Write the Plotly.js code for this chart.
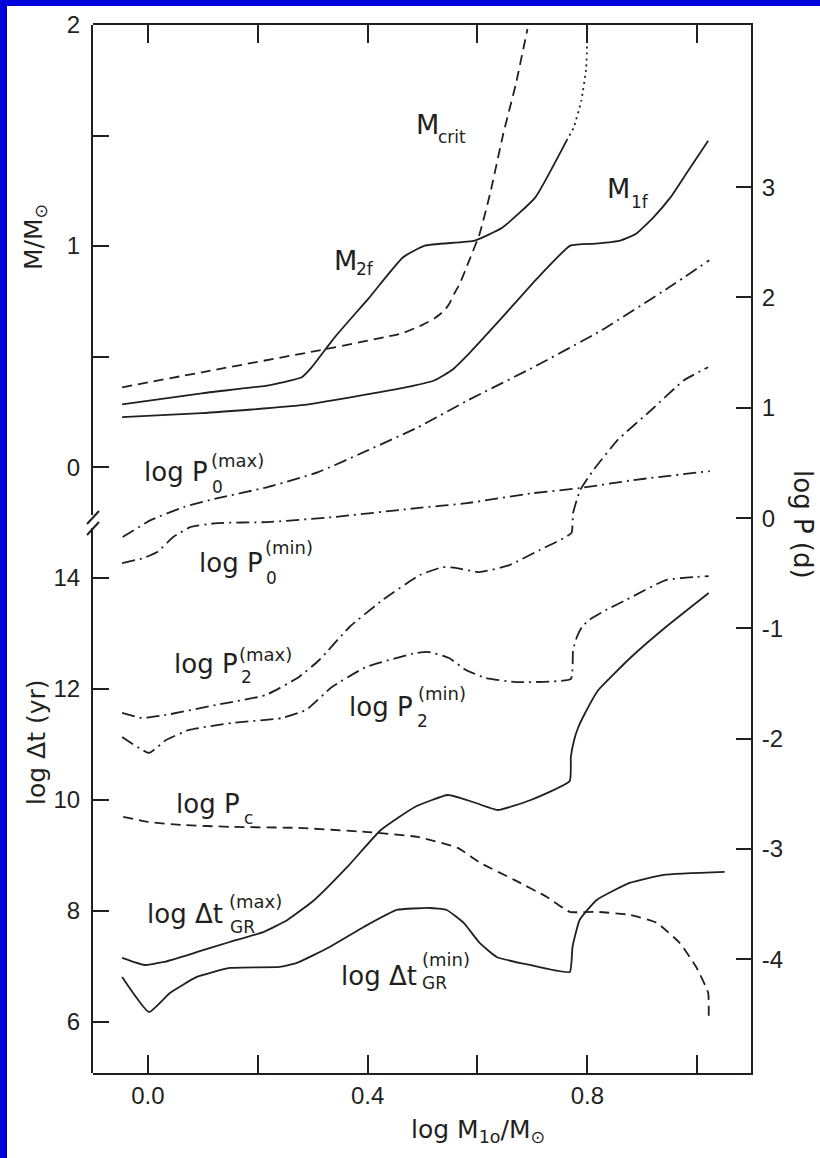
<!DOCTYPE html>
<html>
<head>
<meta charset="utf-8">
<script src="https://cdn.plot.ly/plotly-3.0.1.min.js"></script>
<style>
html,body{margin:0;padding:0;background:#fff;overflow:hidden;}
#wrap{position:relative;width:820px;height:1158px;}
#chart{position:absolute;left:0;top:0;width:820px;height:1158px;}
.band{position:absolute;background:#0000dc;}
</style>
</head>
<body>
<div id="wrap">
<div id="chart"></div>
<div class="band" style="left:0;top:0;width:820px;height:6px;"></div>
<div class="band" style="left:0;top:0;width:7px;height:1158px;"></div>
</div>
<script>
// ---------- data (x = log M10/Msun) ----------
// upper panel: M / Msun (left axis)
const x_Mcrit = [-0.047, 0.098, 0.322, 0.462, 0.498, 0.522, 0.540, 0.549, 0.558, 0.568, 0.585, 0.604, 0.623, 0.647, 0.670, 0.691];
const M_Mcrit = [0.361, 0.429, 0.533, 0.605, 0.641, 0.673, 0.709, 0.740, 0.786, 0.831, 0.935, 1.056, 1.237, 1.508, 1.734, 1.982];

const x_M2f = [-0.047, 0.098, 0.220, 0.262, 0.280, 0.298, 0.340, 0.403, 0.464, 0.504, 0.595, 0.645, 0.705, 0.762];
const M_M2f = [0.284, 0.334, 0.370, 0.393, 0.406, 0.451, 0.587, 0.767, 0.948, 1.002, 1.025, 1.083, 1.219, 1.476];
const x_M2f_ext = [0.762, 0.775, 0.789, 0.798, 0.800];
const M_M2f_ext = [1.476, 1.535, 1.657, 1.806, 1.986];

const x_M1f = [-0.047, 0.098, 0.280, 0.462, 0.522, 0.553, 0.585, 0.645, 0.705, 0.769, 0.816, 0.860, 0.889, 0.920, 0.951, 0.980, 1.020];
const M_M1f = [0.226, 0.244, 0.280, 0.357, 0.393, 0.438, 0.515, 0.677, 0.844, 1.002, 1.011, 1.025, 1.056, 1.129, 1.219, 1.327, 1.476];

// log P (d) curves (right axis)
const x_P0max = [-0.046, 0.005, 0.065, 0.127, 0.218, 0.310, 0.401, 0.492, 0.583, 0.702, 0.826, 0.949, 1.022];
const logP_P0max = [-0.172, -0.018, 0.100, 0.181, 0.281, 0.417, 0.616, 0.824, 1.069, 1.368, 1.703, 2.092, 2.337];

const x_P0min = [-0.047, -0.008, 0.017, 0.046, 0.077, 0.126, 0.217, 0.337, 0.490, 0.581, 0.701, 0.786, 0.883, 1.023];
const logP_P0min = [-0.408, -0.362, -0.308, -0.172, -0.082, -0.045, -0.036, 0.009, 0.091, 0.136, 0.226, 0.272, 0.344, 0.426];

const x_P2max = [-0.047, -0.011, 0.033, 0.124, 0.215, 0.275, 0.312, 0.367, 0.427, 0.495, 0.537, 0.562, 0.604, 0.658, 0.713, 0.771, 0.774, 0.787, 0.811, 0.855, 0.916, 0.976, 1.020];
const logP_P2max = [-1.766, -1.812, -1.784, -1.694, -1.603, -1.440, -1.286, -0.987, -0.743, -0.516, -0.444, -0.453, -0.489, -0.426, -0.290, -0.136, 0.045, 0.254, 0.435, 0.707, 0.978, 1.250, 1.368];

const x_P2min = [-0.047, 0.002, 0.033, 0.075, 0.153, 0.244, 0.288, 0.335, 0.397, 0.488, 0.512, 0.548, 0.579, 0.615, 0.670, 0.770, 0.774, 0.781, 0.790, 0.803, 0.834, 0.870, 0.943, 1.021];
const logP_P2min = [-1.984, -2.129, -2.011, -1.920, -1.857, -1.812, -1.739, -1.531, -1.350, -1.223, -1.214, -1.268, -1.377, -1.449, -1.486, -1.458, -1.196, -1.078, -0.987, -0.924, -0.833, -0.743, -0.562, -0.525];

const x_Pc = [-0.045, 0.000, 0.060, 0.151, 0.273, 0.395, 0.491, 0.564, 0.605, 0.667, 0.726, 0.768, 0.817, 0.877, 0.926, 0.968, 0.998, 1.020, 1.021];
const logP_Pc = [-2.708, -2.754, -2.781, -2.799, -2.808, -2.844, -2.890, -2.989, -3.125, -3.279, -3.433, -3.569, -3.569, -3.596, -3.668, -3.850, -4.067, -4.303, -4.520];

// log Δt (yr) curves (lower left axis)
const x_tGRmax = [-0.047, -0.007, 0.029, 0.090, 0.149, 0.211, 0.254, 0.303, 0.363, 0.424, 0.486, 0.546, 0.592, 0.637, 0.697, 0.768, 0.770, 0.776, 0.783, 0.796, 0.820, 0.880, 0.943, 1.021];
const logt_tGRmax = [7.153, 7.027, 7.081, 7.261, 7.441, 7.622, 7.838, 8.198, 8.793, 9.459, 9.874, 10.090, 9.964, 9.820, 10.000, 10.342, 10.775, 11.081, 11.297, 11.568, 11.982, 12.577, 13.117, 13.730];

const x_tGRmin = [-0.047, 0.002, 0.040, 0.089, 0.149, 0.240, 0.271, 0.331, 0.393, 0.453, 0.513, 0.544, 0.575, 0.604, 0.635, 0.695, 0.768, 0.773, 0.786, 0.817, 0.877, 0.939, 1.050];
const logt_tGRmin = [6.811, 6.180, 6.523, 6.811, 6.973, 6.991, 7.063, 7.351, 7.712, 8.018, 8.054, 8.018, 7.784, 7.423, 7.171, 7.027, 6.901, 7.351, 7.838, 8.198, 8.505, 8.649, 8.703];

// ticks
const xTickVals = [0, 0.2, 0.4, 0.6, 0.8, 1.0];
const xTickText = ['0.0', ' ', '0.4', ' ', '0.8', ' '];
const mTickVals = [0, 0.5, 1, 1.5, 2];
const mTickText = ['0', ' ', '1', ' ', '2'];
const tTickVals = [6, 8, 10, 12, 14];
const tTickText = ['6', '8', '10', '12', '14'];
const pTickVals = [-4, -3, -2, -1, 0, 1, 2, 3];
const pTickText = ['-4', '-3', '-2', '-1', '0', '1', '2', '3'];

// ---------- drawing ----------
const INK = '#231f20';
const LW = 1.8;
const SOLID = 'solid', DASH = '10px,6px', DOT = '2px,4px', DASHDOT = '13px,5px,2px,5px';

function tr(x, y, ya, dash) {
  return {x: x, y: y, xaxis: 'x', yaxis: ya, mode: 'lines', hoverinfo: 'skip',
          line: {color: INK, width: LW, dash: dash, shape: 'spline', smoothing: 0.4}};
}
const traces = [
  tr(x_Mcrit, M_Mcrit, 'y', DASH),
  tr(x_M2f, M_M2f, 'y', SOLID),
  tr(x_M2f_ext, M_M2f_ext, 'y', DOT),
  tr(x_M1f, M_M1f, 'y', SOLID),
  tr(x_P0max, logP_P0max, 'y3', DASHDOT),
  tr(x_P0min, logP_P0min, 'y3', DASHDOT),
  tr(x_P2max, logP_P2max, 'y3', DASHDOT),
  tr(x_P2min, logP_P2min, 'y3', DASHDOT),
  tr(x_Pc, logP_Pc, 'y3', DASH),
  tr(x_tGRmax, logt_tGRmax, 'y2', SOLID),
  tr(x_tGRmin, logt_tGRmin, 'y2', SOLID)
];

// page geometry (pixels)
const W = 820, H = 1158, L = 93, R = 69, T = 25, B = 85;
const PW = W - L - R, PH = H - T - B;
const px = X => (X - L) / PW;
const py = Y => (H - B - Y) / PH;
const BREAK = py(527);

const tickFont = {family: 'Liberation Sans, Arial, sans-serif', size: 24, color: INK};
const axBase = {ticks: 'inside', ticklen: 16, tickwidth: 2, tickcolor: INK, showline: true,
                linecolor: INK, linewidth: 2, showgrid: false, zeroline: false, tickfont: tickFont,
                fixedrange: true};

const LF = 'DejaVu Sans, sans-serif';
function ann(text, X, Y, size, extra) {
  return Object.assign({text: text, xref: 'paper', yref: 'paper', x: px(X), y: py(Y),
    xanchor: 'left', yanchor: 'middle', showarrow: false, borderpad: 0,
    font: {family: LF, size: size, color: INK}}, extra || {});
}
const annotations = [
  // M labels
  ann('M', 415, 125, 27), ann('crit', 437, 137, 17),
  ann('M', 333, 260, 27), ann('2f', 355, 269, 17),
  ann('M', 606, 188, 27), ann('1f', 630, 202, 17),
  // log P labels
  ann('log P', 143, 472, 26), ann('0', 211, 487, 17), ann('(max)', 210, 461, 18),
  ann('log P', 198, 563, 26), ann('0', 265, 578, 17), ann('(min)', 264, 547, 18),
  ann('log P', 173, 664, 26), ann('2', 240, 677, 17), ann('(max)', 238, 654, 18),
  ann('log P', 348, 707, 26), ann('2', 416, 721, 17), ann('(min)', 417, 694, 18),
  ann('log P', 175, 804, 26), ann('c', 243, 818, 17),
  // log Δt labels
  ann('log Δt', 146, 914, 26), ann('GR', 229, 927, 17), ann('(max)', 228, 901, 18),
  ann('log Δt', 340, 976, 26), ann('GR', 421, 983, 17), ann('(min)', 421, 959, 18),
  // axis titles
  ann('M/M<sub>⊙</sub>', 35, 237, 25, {xanchor: 'center', textangle: -90}),
  ann('log Δt (yr)', 36, 742, 25, {xanchor: 'center', textangle: -90}),
  ann('log P (d)', 803, 524, 26, {xanchor: 'center', textangle: 90}),
  ann('log M<sub>1o</sub>/M<sub>⊙</sub>', 410, 1131, 25)
];

const shapes = [
  // axis break on the left axis
  {type: 'line', xref: 'paper', yref: 'paper', x0: px(93), x1: px(93), y0: py(515), y1: py(528),
   line: {color: '#ffffff', width: 5}},
  {type: 'line', xref: 'paper', yref: 'paper', x0: px(87), x1: px(99), y0: py(524), y1: py(511),
   line: {color: INK, width: 2}},
  {type: 'line', xref: 'paper', yref: 'paper', x0: px(87), x1: px(99), y0: py(535), y1: py(522),
   line: {color: INK, width: 2}}
];

const layout = {
  width: W, height: H,
  margin: {l: L, r: R, t: T, b: B, pad: 0},
  paper_bgcolor: '#ffffff', plot_bgcolor: 'rgba(0,0,0,0)',
  showlegend: false,
  xaxis: Object.assign({}, axBase, {range: [-0.1, 1.098], domain: [0, 1], anchor: 'y3',
    mirror: 'ticks', ticklen: 18, tickvals: xTickVals, ticktext: xTickText, ticklabelstandoff: 0}),
  yaxis: Object.assign({}, axBase, {range: [-0.271, 2], domain: [BREAK, 1], anchor: 'x', side: 'left',
    tickvals: mTickVals, ticktext: mTickText, ticklabelstandoff: 6}),
  yaxis2: Object.assign({}, axBase, {range: [5.08, 14.92], domain: [0, BREAK], anchor: 'x', side: 'left',
    tickvals: tTickVals, ticktext: tTickText, ticklabelstandoff: 6}),
  yaxis3: Object.assign({}, axBase, {range: [-5.03, 4.47], domain: [0, 1], anchor: 'x', side: 'right',
    ticklen: 15, tickvals: pTickVals, ticktext: pTickText, ticklabelstandoff: 4}),
  annotations: annotations,
  shapes: shapes
};

Plotly.newPlot('chart', traces, layout, {staticPlot: true, displayModeBar: false});
</script>
</body>
</html>
